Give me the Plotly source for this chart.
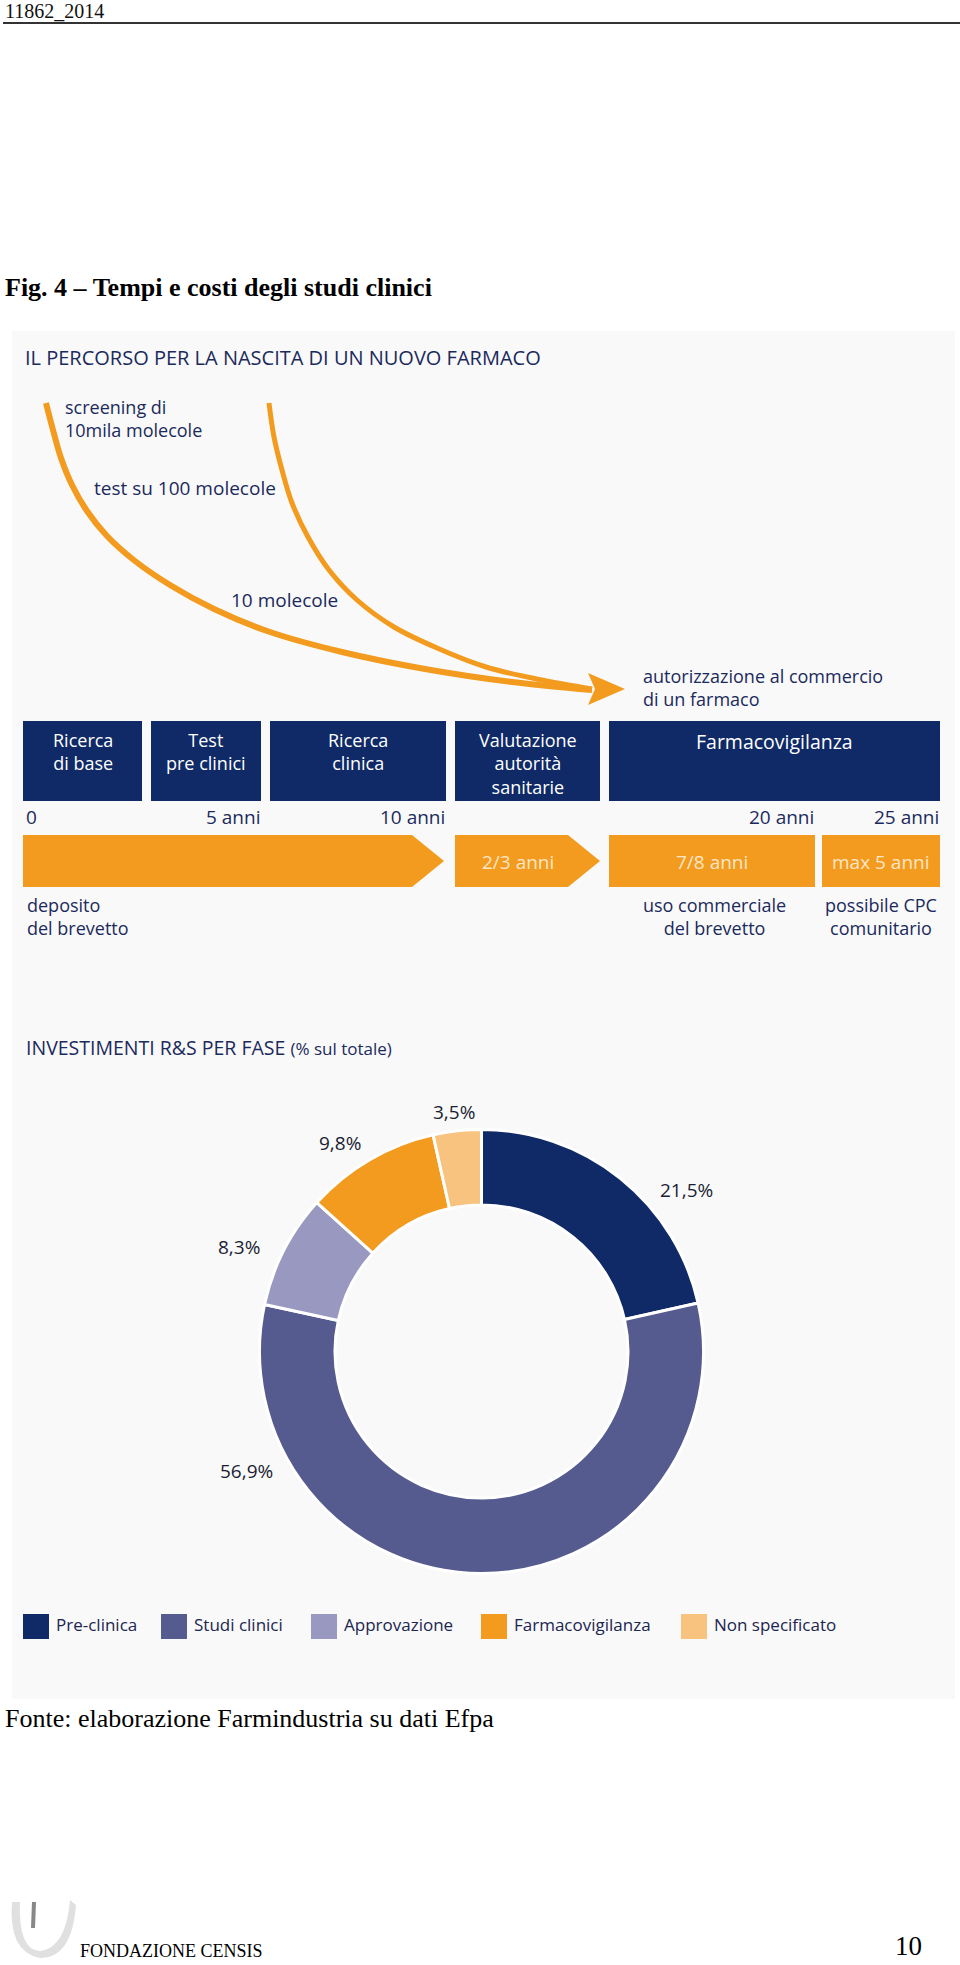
import plotly.graph_objects as go

# ---------------- data ----------------
header_code = "11862_2014"
fig_title = "Fig. 4 – Tempi e costi degli studi clinici"
section1_title = "IL PERCORSO PER LA NASCITA DI UN NUOVO FARMACO"
section2_title = "INVESTIMENTI R&S PER FASE"
section2_sub = "(% sul totale)"
source_text = "Fonte: elaborazione Farmindustria su dati Efpa"
footer_org = "FONDAZIONE CENSIS"
page_number = "10"

funnel_labels = ["screening di\n10mila molecole", "test su 100 molecole", "10 molecole"]
target_label = "autorizzazione al commercio\ndi un farmaco"

# arrow paths (pixel space of the infographic)
curve_outer_x = [46, 53, 61, 72, 87, 107, 135, 170, 214, 270, 342, 425, 512, 592]
curve_outer_y = [403, 430, 458, 485, 511, 536, 561, 585, 609, 632, 652, 669, 682, 690]
curve_inner_x = [269, 274, 282, 292, 308, 329, 357, 394, 437, 486, 542, 592]
curve_inner_y = [403, 437, 470, 503, 537, 570, 600, 627, 648, 667, 680, 689]

phases = ["Ricerca\ndi base", "Test\npre clinici", "Ricerca\nclinica",
          "Valutazione\nautorità\nsanitarie", "Farmacovigilanza"]
year_labels = ["0", "5 anni", "10 anni", "20 anni", "25 anni"]
durations = ["", "2/3 anni", "7/8 anni", "max 5 anni"]
duration_notes = ["deposito\ndel brevetto", "", "uso commerciale\ndel brevetto", "possibile CPC\ncomunitario"]

categories = ["Pre-clinica", "Studi clinici", "Approvazione", "Farmacovigilanza", "Non specificato"]
shares = [21.5, 56.9, 8.3, 9.8, 3.5]

# ---------------- style / layout constants ----------------
W, H = 960, 1965
NAVY = "#0f2a66"
TXT = "#1b2a5c"
ORANGE = "#f29b1e"
SLICE_COLORS = ["#0f2a66", "#555b8f", "#9898c0", "#f29b1e", "#f8c27f"]
SANS = "Open Sans, Lato, Liberation Sans, sans-serif"
SERIF = "Liberation Serif, Times New Roman, serif"

box_x = [(23, 142), (151, 261), (270, 446), (455, 600), (609, 940)]
box_top, box_bot = 721, 801
year_pos = [(25, "left"), (261, "right"), (446, "right"), (815, "right"), (940, "right")]
bar_top, bar_bot = 835, 887
bar_geo = [(23, 412, 444), (455, 568, 600), (609, 815, None), (822, 940, None)]
note_pos = [(26, "left"), (None, None), (714, "center"), (881, "center")]

fig = go.Figure()
shapes = []
ann = []


def text(x, y, s, size=19, color=TXT, family=SANS, xanchor="left", yanchor="middle", weight=None, align=None):
    f = dict(size=size, color=color, family=family)
    if weight:
        f["weight"] = weight
    ann.append(dict(x=x, y=y, xref="x", yref="y", text=s.replace("\n", "<br>"), showarrow=False,
                    xanchor=xanchor, yanchor=yanchor, font=f, align=align or xanchor,
                    borderpad=0))


# page header
text(4, 11, header_code, size=20, color="#111", family=SERIF)
shapes.append(dict(type="line", x0=3, x1=960, y0=23, y1=23, xref="x", yref="y",
                   line=dict(color="#333", width=2)))
text(4, 287, fig_title, size=26, color="#000", family=SERIF, weight="bold")

# infographic panel
shapes.append(dict(type="rect", x0=12, x1=955, y0=331, y1=1699, xref="x", yref="y",
                   fillcolor="#f9f9f9", line=dict(width=0), layer="below"))

text(24, 357, section1_title, size=20, color=TXT)

# curved arrows
for cx, cy, w in [(curve_outer_x, curve_outer_y, 6), (curve_inner_x, curve_inner_y, 5)]:
    fig.add_trace(go.Scatter(x=cx, y=cy, mode="lines", line=dict(color=ORANGE, width=w, shape="spline"),
                             hoverinfo="skip", showlegend=False))
shapes.append(dict(type="path", path="M 588 673 L 625 689 L 588 705 L 595 689 Z", xref="x", yref="y",
                   fillcolor=ORANGE, line=dict(width=0)))

text(64, 418, funnel_labels[0], size=18)
text(93, 488, funnel_labels[1], size=19)
text(230, 600, funnel_labels[2], size=19)
text(642, 687, target_label, size=18)

# phase boxes
for (x0, x1), lab in zip(box_x, phases):
    shapes.append(dict(type="rect", x0=x0, x1=x1, y0=box_top, y1=box_bot, xref="x", yref="y",
                       fillcolor=NAVY, line=dict(width=0)))
    n = lab.count("\n") + 1
    size = 18 if n > 1 else 19.5
    text((x0 + x1) / 2, 727, lab, size=size, color="white", xanchor="center", yanchor="top")

# year ticks
for (x, anc), lab in zip(year_pos, year_labels):
    text(x, 817, lab, xanchor=anc)

# orange duration bars
for (x0, x1, tip), lab in zip(bar_geo, durations):
    mid = (bar_top + bar_bot) / 2
    if tip:
        p = f"M {x0} {bar_top} L {x1} {bar_top} L {tip} {mid} L {x1} {bar_bot} L {x0} {bar_bot} Z"
    else:
        p = f"M {x0} {bar_top} L {x1} {bar_top} L {x1} {bar_bot} L {x0} {bar_bot} Z"
    shapes.append(dict(type="path", path=p, xref="x", yref="y", fillcolor=ORANGE, line=dict(width=0)))
    if lab:
        cx = (x0 + x1) / 2 + (6 if tip else 0)
        text(cx, mid + 1, lab, color="#fde6c6", xanchor="center")

for (x, anc), note in zip(note_pos, duration_notes):
    if not note:
        continue
    text(x, 916, note, size=18, xanchor=anc)

# section 2
ann.append(dict(x=25, y=1047, xref="x", yref="y", showarrow=False, xanchor="left", yanchor="middle",
                text=f"{section2_title} <span style='font-size:17px'>{section2_sub}</span>",
                font=dict(size=19.5, color=TXT, family=SANS), borderpad=0))

# donut
cx, cy, r = 481.5, 1351.5, 222
fig.add_trace(go.Pie(
    labels=categories, values=shares, sort=False, direction="clockwise", rotation=0,
    hole=0.66, marker=dict(colors=SLICE_COLORS, line=dict(color="white", width=3)),
    textinfo="none", hoverinfo="label+percent", showlegend=False,
    domain=dict(x=[(cx - r) / W, (cx + r) / W], y=[(H - cy - r) / H, (H - cy + r) / H]),
))

label_pos = [(686, 1190), (246, 1471), (239, 1247), (340, 1143), (454, 1112)]
for (lx, ly), v in zip(label_pos, shares):
    text(lx, ly, f"{v:.1f}".replace(".", ",") + "%", size=19, color="#1a1d33", xanchor="center")

# legend
legend_x = [23, 161, 311, 481, 681]
for x, c, lab in zip(legend_x, SLICE_COLORS, categories):
    shapes.append(dict(type="rect", x0=x, x1=x + 26, y0=1614, y1=1639, xref="x", yref="y",
                       fillcolor=c, line=dict(width=0)))
    text(x + 32, 1624, lab, size=17, color="#1b2550")

# source and footer
text(4, 1718, source_text, size=26, color="#000", family=SERIF)

shapes.append(dict(type="path", path="M 12 1902 Q 8 1952 40 1958 Q 72 1958 76 1905 L 70 1900 Q 66 1948 40 1951 Q 18 1950 20 1902 Z",
                   xref="x", yref="y", fillcolor="#e0e0e0", line=dict(width=0)))
shapes.append(dict(type="line", x0=34, x1=33, y0=1902, y1=1928, xref="x", yref="y",
                   line=dict(color="#888", width=4)))
text(79, 1951, footer_org, size=18, color="#000", family=SERIF)
text(923, 1946, page_number, size=27, color="#000", family=SERIF, xanchor="right")

fig.update_layout(
    width=W, height=H, margin=dict(l=0, r=0, t=0, b=0),
    paper_bgcolor="white", plot_bgcolor="white",
    xaxis=dict(range=[0, W], visible=False, fixedrange=True),
    yaxis=dict(range=[H, 0], visible=False, fixedrange=True),
    shapes=shapes, annotations=ann, showlegend=False,
)
fig.write_html("out.html", config={"displayModeBar": False},
               post_script="document.body.style.margin='0';document.body.style.overflow='hidden';")
